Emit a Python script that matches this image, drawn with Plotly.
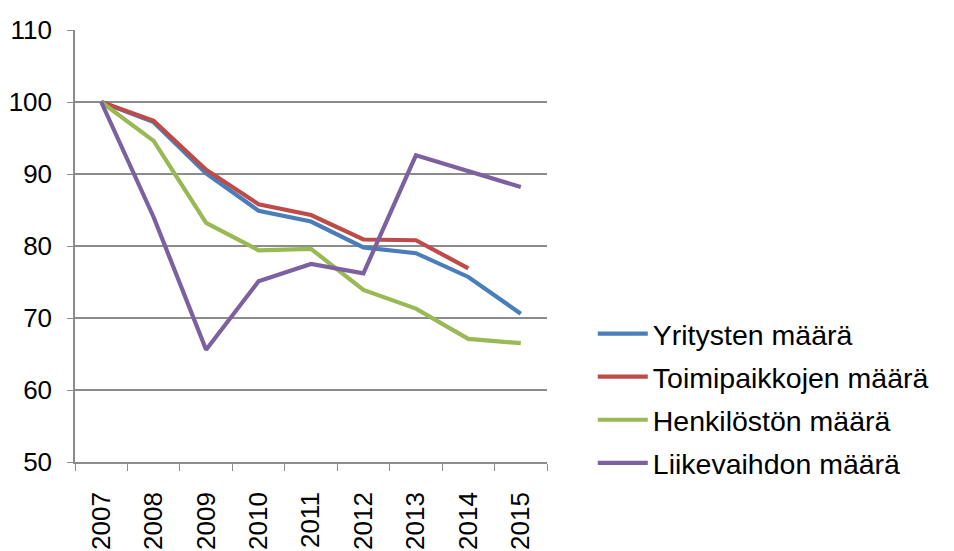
import plotly.graph_objects as go

# ----------------------
# Data (index, 2007 = 100)
# ----------------------
years = ["2007", "2008", "2009", "2010", "2011", "2012", "2013", "2014", "2015"]

yritysten = [100, 97.2, 90.1, 84.9, 83.4, 79.8, 79.0, 75.7, 70.6]
toimipaikkojen = [100, 97.4, 90.6, 85.8, 84.3, 80.9, 80.8, 76.9, None]
henkiloston = [100, 94.6, 83.2, 79.4, 79.6, 73.9, 71.3, 67.1, 66.5]
liikevaihdon = [100, 84.0, 65.6, 75.1, 77.5, 76.2, 92.6, 90.4, 88.2]

series_names = ["Yritysten määrä", "Toimipaikkojen määrä", "Henkilöstön määrä", "Liikevaihdon määrä"]
series_values = [yritysten, toimipaikkojen, henkiloston, liikevaihdon]
series_colors = ["#4A7EBB", "#BE4B48", "#98B954", "#7D60A0"]

FONT = "Liberation Sans, Arial, sans-serif"
GRID = "#8C8C8C"

fig = go.Figure()

# One line per series, each in its own legend group so the gap applies
for name, values, color in zip(series_names, series_values, series_colors):
    fig.add_trace(
        go.Scatter(
            x=years,
            y=values,
            name=name,
            mode="lines",
            line=dict(color=color, width=4.2),
            legendgroup=name,
        )
    )

fig.update_layout(
    width=954,
    height=551,
    # page body adds an 8px offset, margins compensate for it
    margin=dict(l=67, r=415, t=22, b=97),
    paper_bgcolor="white",
    plot_bgcolor="white",
    font=dict(family=FONT, size=26, color="black"),
    showlegend=True,
    legend=dict(
        x=1.097,
        y=0.355,
        xanchor="left",
        yanchor="top",
        font=dict(size=28.5),
        itemwidth=50,
        tracegroupgap=3,
        bgcolor="rgba(0,0,0,0)",
    ),
    xaxis=dict(
        type="category",
        tickson="boundaries",
        ticks="outside",
        ticklen=7,
        tickcolor=GRID,
        tickangle=-90,
        showline=True,
        linecolor=GRID,
        linewidth=1.5,
        showgrid=False,
        ticklabelstandoff=18,
        range=[-0.5, 8.5],
        automargin=False,
    ),
    yaxis=dict(
        range=[50, 110],
        dtick=10,
        ticks="outside",
        ticklen=6,
        tickcolor=GRID,
        showline=True,
        linecolor=GRID,
        linewidth=1.5,
        showgrid=True,
        gridcolor=GRID,
        gridwidth=1.5,
        zeroline=False,
        ticklabelstandoff=10,
        automargin=False,
    ),
)

fig.write_html("out.html")
